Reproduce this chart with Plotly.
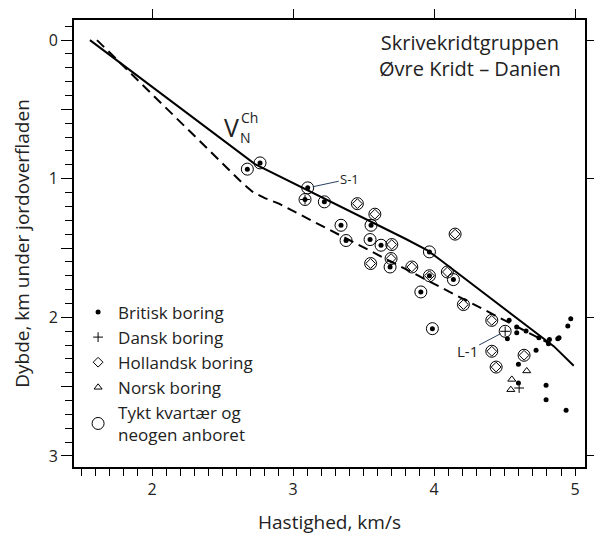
import plotly.graph_objects as go

# ---- data (velocity km/s, depth km) ----
brit_x = [2.766, 2.676, 3.104, 3.085, 3.222, 3.34, 3.376, 3.553, 3.546, 3.624, 3.688, 3.967,
          3.967, 4.137, 3.906, 3.988,
          4.532, 4.586, 4.586, 4.652, 4.52, 4.743, 4.818, 4.877, 4.886, 4.811, 4.948, 4.969,
          4.723, 4.598, 4.598, 4.794, 4.794, 4.936]
brit_y = [0.886, 0.931, 1.066, 1.15, 1.167, 1.336, 1.446, 1.336, 1.439, 1.48, 1.637, 1.528,
          1.70, 1.728, 1.817, 2.082,
          2.022, 2.07, 2.111, 2.099, 2.154, 2.147, 2.161, 2.154, 2.147, 2.19, 2.063, 2.01,
          2.238, 2.339, 2.474, 2.491, 2.594, 2.671]

dansk_x = [3.085, 4.504, 4.603]
dansk_y = [1.15, 2.101, 2.51]

holl_x = [3.456, 3.58, 3.70, 3.55, 3.695, 3.842, 4.149, 3.967, 4.094, 4.208, 4.409, 4.409, 4.44, 4.638]
holl_y = [1.18, 1.256, 1.475, 1.612, 1.576, 1.637, 1.40, 1.70, 1.673, 1.908, 2.022, 2.245, 2.359, 2.274]

norsk_x = [4.657, 4.551, 4.544]
norsk_y = [2.387, 2.448, 2.522]

tykt_x = [2.766, 2.676, 3.104, 3.085, 3.222, 3.34, 3.376, 3.456, 3.58, 3.553, 3.546, 3.624,
          3.70, 3.55, 3.695, 3.688, 3.842, 3.967, 4.149, 3.967, 4.094, 4.137, 3.906, 3.988,
          4.208, 4.409, 4.504, 4.409, 4.44, 4.638]
tykt_y = [0.886, 0.931, 1.066, 1.15, 1.167, 1.336, 1.446, 1.18, 1.256, 1.336, 1.439, 1.48,
          1.475, 1.612, 1.576, 1.637, 1.637, 1.528, 1.40, 1.70, 1.673, 1.728, 1.817, 2.082,
          1.908, 2.022, 2.101, 2.245, 2.359, 2.274]

solid_x = [1.56, 2.73, 3.80, 3.95, 4.05, 4.85, 4.99]
solid_y = [0.0, 0.895, 1.435, 1.515, 1.59, 2.21, 2.35]

dash_x = [1.61, 2.55, 2.65, 2.72, 2.80, 2.90, 4.82]
dash_y = [0.0, 0.939, 1.04, 1.10, 1.14, 1.18, 2.19]

x_ticks = [2, 3, 4, 5]
y_tickvals = [0, 0.5, 1, 1.5, 2, 2.5, 3]
y_ticktext = ["0", "", "1", "", "2", "", "3"]

FONT = "'Open Sans', Lato, sans-serif"

fig = go.Figure()

fig.add_trace(go.Scatter(x=solid_x, y=solid_y, mode="lines",
                         line=dict(color="black", width=2), showlegend=False, hoverinfo="skip"))
fig.add_trace(go.Scatter(x=dash_x, y=dash_y, mode="lines",
                         line=dict(color="black", width=2, dash="10px,6px"), showlegend=False, hoverinfo="skip"))

fig.add_trace(go.Scatter(x=brit_x, y=brit_y, mode="markers", name="Britisk boring",
                         marker=dict(symbol="circle", size=5, color="black")))
fig.add_trace(go.Scatter(x=dansk_x, y=dansk_y, mode="markers", name="Dansk boring",
                         marker=dict(symbol="cross-thin", size=7, color="black",
                                     line=dict(color="black", width=1))))
fig.add_trace(go.Scatter(x=holl_x, y=holl_y, mode="markers", name="Hollandsk boring",
                         marker=dict(symbol="diamond-open", size=7.5, color="black",
                                     line=dict(color="black", width=1))))
fig.add_trace(go.Scatter(x=norsk_x, y=norsk_y, mode="markers", name="Norsk boring",
                         marker=dict(symbol="triangle-up-open", size=7, color="black",
                                     line=dict(color="black", width=1))))
fig.add_trace(go.Scatter(x=tykt_x, y=tykt_y, mode="markers", name="Tykt kvartær og<br>neogen anboret",
                         marker=dict(symbol="circle-open", size=12, color="black",
                                     line=dict(color="black", width=1))))

# invisible traces to activate the top / right axes
fig.add_trace(go.Scatter(x=[2], y=[0], xaxis="x2", yaxis="y2", mode="markers",
                         marker=dict(opacity=0), showlegend=False, hoverinfo="skip"))

fig.update_layout(
    width=594, height=535,
    margin=dict(l=74, r=9, t=20, b=68),
    paper_bgcolor="white", plot_bgcolor="white",
    font=dict(family=FONT, size=16, color="#222"),
    xaxis=dict(range=[1.447, 5.07], tickvals=x_ticks, ticks="outside", ticklen=7, tickwidth=1,
               tickcolor="black", showgrid=False, zeroline=False, automargin=False,
               showline=True, linecolor="black", linewidth=2, mirror=True,
               minor=dict(dtick=0.1, tick0=0, ticks="outside", ticklen=7, tickwidth=1, tickcolor="black"),
               title=dict(text="Hastighed, km/s", standoff=20, font=dict(size=19, family=FONT)),
               tickfont=dict(size=16, family=FONT)),
    yaxis=dict(range=[3.08, -0.145], tickvals=y_tickvals, ticktext=y_ticktext, ticks="outside",
               ticklen=11, tickwidth=1, tickcolor="black", showgrid=False, zeroline=False,
               automargin=False,
               showline=True, linecolor="black", linewidth=2, mirror=True,
               minor=dict(dtick=0.1, tick0=0, ticks="outside", ticklen=7, tickwidth=1, tickcolor="black"),
               title=dict(text="Dybde, km under jordoverfladen", standoff=14, font=dict(size=19, family=FONT)),
               tickfont=dict(size=16, family=FONT)),
    xaxis2=dict(overlaying="x", matches="x", side="top", tickvals=x_ticks, ticks="outside",
                ticklen=10, tickwidth=1, tickcolor="black", showticklabels=False, automargin=False,
                showgrid=False, zeroline=False, showline=False),
    yaxis2=dict(overlaying="y", matches="y", side="right", tickvals=[0, 1, 2, 3], ticks="outside",
                ticklen=9, tickwidth=1, tickcolor="black", showticklabels=False, automargin=False,
                showgrid=False, zeroline=False, showline=False),
    legend=dict(x=0.008, y=0.386, xanchor="left", yanchor="top", bgcolor="rgba(0,0,0,0)",
                font=dict(size=17, family=FONT), itemsizing="trace", tracegroupgap=0),
    showlegend=True,
)

fig.add_annotation(xref="paper", yref="paper", x=0.775, y=0.921, xanchor="center", yanchor="middle",
                   showarrow=False, text="Skrivekridtgruppen<br>Øvre Kridt – Danien", align="center",
                   font=dict(size=20, family=FONT))
fig.add_annotation(x=3.104, y=1.066, text="S-1", showarrow=True, arrowhead=0, arrowwidth=1,
                   ax=42, ay=-9, standoff=5, font=dict(size=13, family=FONT))
fig.add_annotation(x=4.504, y=2.101, text="L-1", showarrow=True, arrowhead=0, arrowwidth=1,
                   ax=-38, ay=20, standoff=5, font=dict(size=15, family=FONT))
fig.add_annotation(x=2.567, y=0.63, text="V", showarrow=False, font=dict(size=25, family=FONT))
fig.add_annotation(x=2.69, y=0.555, text="Ch", showarrow=False, font=dict(size=14, family=FONT))
fig.add_annotation(x=2.662, y=0.70, text="N", showarrow=False, font=dict(size=14, family=FONT))

fig.write_html("out.html")
